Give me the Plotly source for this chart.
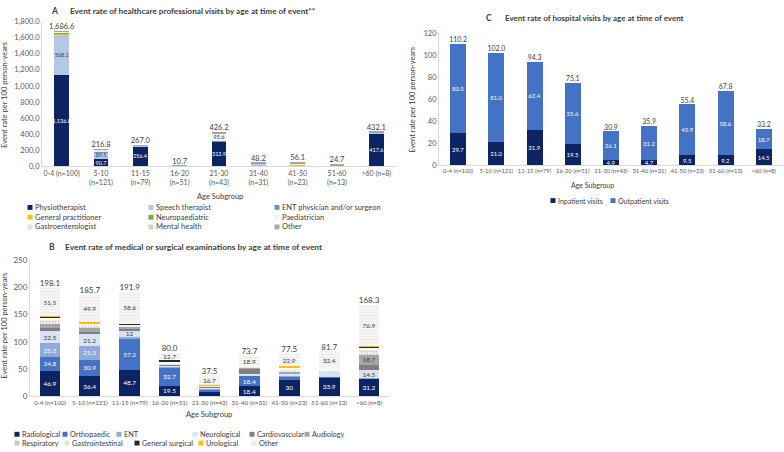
import plotly.graph_objects as go

W, H = 784, 452
FONT = "Lato"
TXT = "#404040"
TICK = "#595959"
AXL = "#D9D9D9"

# ---------------- data ----------------
ages = ["0-4 (n=100)", "5-10 (n=121)", "11-15 (n=79)", "16-20 (n=51)", "21-30 (n=43)",
        "31-40 (n=31)", "41-50 (n=23)", "51-60 (n=13)", ">60 (n=8)"]
ages_wrapped = ["0-4 (n=100)", "5-10<br>(n=121)", "11-15<br>(n=79)", "16-20<br>(n=51)", "21-30<br>(n=43)",
                "31-40<br>(n=31)", "41-50<br>(n=23)", "51-60<br>(n=13)", ">60 (n=8)"]

# Panel A: healthcare professional visits
A_names = ["Physiotherapist", "Speech therapist", "ENT physician and/or surgeon",
           "General practitioner", "Neuropaediatric", "Paediatrician",
           "Gastroenterologist", "Mental health", "Other"]
A_physio = [1136.8, 90.7, 256.4, 0, 312.9, 20, 5, 0, 417.6]
A_speech = [508.1, 89.5, 2, 2, 5, 15, 10, 10, 5]
A_ent = [2, 8, 1, 0, 3, 5, 0, 0, 0]
A_gp = [8, 3, 4, 0, 0, 0, 8, 0, 3]
A_neuro = [10, 2, 1, 0, 0, 0, 3, 0, 0]
A_paed = [5, 10, 1, 5, 95.6, 0, 20, 10, 0]
A_gastro = [3, 5, 0, 0, 0, 0, 0, 0, 0]
A_mental = [3, 3, 0, 0, 0, 0, 0, 0, 0]
A_other = [10.7, 5.6, 1.6, 3.7, 9.7, 8.2, 10.1, 4.7, 6.5]
A_totals = [1686.6, 216.8, 267.0, 10.7, 426.2, 48.2, 56.1, 24.7, 432.1]
A_physio_lbl = ["1,136.8", "90.7", "256.4", "", "312.9", "", "", "", "417.6"]
A_speech_lbl = ["508.1", "89.5", "", "", "", "", "", "", ""]
A_paed_lbl = ["", "", "", "", "95.6", "", "", "", ""]

# Panel C: hospital visits
C_names = ["Inpatient visits", "Outpatient visits"]
C_inpatient = [29.7, 21.0, 31.9, 19.5, 4.9, 4.7, 9.5, 9.2, 14.5]
C_outpatient = [80.5, 81.0, 62.4, 55.6, 26.1, 31.2, 45.9, 58.6, 18.7]
C_totals = [110.2, 102.0, 94.3, 75.1, 30.9, 35.9, 55.4, 67.8, 33.2]

# Panel B: medical or surgical examinations
B_names = ["Radiological", "Orthopaedic", "ENT", "Neurological", "Cardiovascular", "Audiology",
           "Respiratory", "Gastrointestinal", "General surgical", "Urological", "Other"]
B_radio = [46.9, 36.4, 48.7, 19.5, 7.5, 18.4, 30, 33.9, 31.2]
B_ortho = [24.8, 30.9, 57.2, 32.7, 4.5, 18.4, 5, 1, 1]
B_ent = [25.3, 25.3, 3, 1, 1.5, 1, 3, 1, 1]
B_neuro = [22.5, 21.2, 12, 3, 2, 3, 3, 8, 14.5]
B_cardio = [6, 5, 3, 1, 1, 9, 0, 0, 10]
B_audio = [7, 6, 3, 1, 1, 3, 3, 0, 18.7]
B_resp = [8, 6, 3, 2, 1, 1, 5, 2, 8]
B_gastro = [4, 2, 1, 2.8, 1, 1, 3.6, 3.4, 4]
B_gensurg = [1, 1, 1.4, 4.3, 0, 0, 0, 0, 2]
B_uro = [1.1, 2, 1, 0, 1.3, 0, 2, 0, 1]
B_other = [51.5, 49.9, 58.6, 12.7, 16.7, 18.9, 22.9, 32.4, 76.9]
B_totals = [198.1, 185.7, 191.9, 80.0, 37.5, 73.7, 77.5, 81.7, 168.3]
B_radio_lbl = ["46.9", "36.4", "48.7", "19.5", "", "18.4", "30", "33.9", "31.2"]
B_ortho_lbl = ["24.8", "30.9", "57.2", "32.7", "", "18.4", "", "", ""]
B_ent_lbl = ["25.3", "25.3", "", "", "", "", "", "", ""]
B_neuro_lbl = ["22.5", "21.2", "12", "", "", "", "", "", "14.5"]
B_audio_lbl = ["", "", "", "", "", "", "", "", "18.7"]
B_other_lbl = ["51.5", "49.9", "58.6", "12.7", "16.7", "18.9", "22.9", "32.4", "76.9"]

# ---------------- styles ----------------
NAVY = "#0C2461"
BLUE = "#4472C4"
A_style = {
    "Physiotherapist": dict(color=NAVY, tc="white"),
    "Speech therapist": dict(color="#B4C7E7", tc=TXT),
    "ENT physician and/or surgeon": dict(color="#5B9BD5", tc="white"),
    "General practitioner": dict(color="#FFC000", tc=TXT),
    "Neuropaediatric": dict(color="#70AD47", tc=TXT),
    "Paediatrician": dict(color="#F2F2F2", tc=TXT),
    "Gastroenterologist": dict(color="#DAE3F3", tc=TXT),
    "Mental health": dict(color="#FFFFFF", tc=TXT, pattern=dict(shape="x", fgcolor="#A5A5A5", bgcolor="#FFFFFF", size=3, solidity=0.3), leg="#D0D0D0"),
    "Other": dict(color="#A5A5A5", tc=TXT),
}
C_style = {
    "Inpatient visits": dict(color=NAVY, tc="white"),
    "Outpatient visits": dict(color=BLUE, tc="white"),
}
B_style = {
    "Radiological": dict(color=NAVY, tc="white"),
    "Orthopaedic": dict(color=BLUE, tc="white"),
    "ENT": dict(color="#8FAADC", tc="white"),
    "Neurological": dict(color="#DAE3F3", tc=TXT),
    "Cardiovascular": dict(color="#7F7F7F", tc=TXT),
    "Audiology": dict(color="#A5A5A5", tc=TXT),
    "Respiratory": dict(color="#FFFFFF", tc=TXT, pattern=dict(shape=".", fgcolor="#8C8C8C", bgcolor="#FFFFFF", size=3, solidity=0.45), leg="#C8C8C8"),
    "Gastrointestinal": dict(color="#FFFFFF", tc=TXT, pattern=dict(shape="x", fgcolor="#C8C8C8", bgcolor="#FFFFFF", size=4, solidity=0.25), leg="#E0E0E0"),
    "General surgical": dict(color="#262626", tc="white"),
    "Urological": dict(color="#FFC000", tc=TXT),
    "Other": dict(color="#F2F2F2", tc=TXT, pattern=dict(shape="-", fgcolor="#DCDCDC", bgcolor="#F7F7F7", size=3, solidity=0.35), leg="#EAEAEA"),
}

fig = go.Figure()


def add_bar(name, vals, lbls, style, xa, ya, width, fsize):
    marker = dict(color=style["color"], line=dict(width=0))
    if "pattern" in style:
        marker["pattern"] = style["pattern"]
    fig.add_trace(go.Bar(
        x=ages, y=vals, name=name, xaxis=xa, yaxis=ya, width=width,
        marker=marker, showlegend=False,
        text=lbls if lbls is not None else None,
        textposition="inside", insidetextanchor="middle", textangle=0,
        constraintext="none", cliponaxis=False,
        textfont=dict(family=FONT, size=fsize, color=style["tc"]),
        hoverinfo="name+y",
    ))


def add_totals(vals, xa, ya, fmt, fsize):
    fig.add_trace(go.Scatter(
        x=ages, y=vals, mode="text", text=[fmt.format(v) for v in vals],
        textposition="top center", xaxis=xa, yaxis=ya, showlegend=False,
        cliponaxis=False, textfont=dict(family=FONT, size=fsize, color=TXT),
        hoverinfo="skip",
    ))


# Panel A
A_vals = [A_physio, A_speech, A_ent, A_gp, A_neuro, A_paed, A_gastro, A_mental, A_other]
A_lbls = [A_physio_lbl, A_speech_lbl, None, None, None, A_paed_lbl, None, None, None]
for n, v, l in zip(A_names, A_vals, A_lbls):
    add_bar(n, v, l, A_style[n], "x", "y", 0.38, 5.5)
add_totals(A_totals, "x", "y", "{:,.1f}", 7.5)

# Panel C
C_vals = [C_inpatient, C_outpatient]
for n, v in zip(C_names, C_vals):
    add_bar(n, v, ["{:.1f}".format(x) for x in v], C_style[n], "x2", "y2", 0.42, 6)
add_totals(C_totals, "x2", "y2", "{:.1f}", 7)

# Panel B
B_vals = [B_radio, B_ortho, B_ent, B_neuro, B_cardio, B_audio, B_resp, B_gastro, B_gensurg, B_uro, B_other]
B_lbls = [B_radio_lbl, B_ortho_lbl, B_ent_lbl, B_neuro_lbl, None, B_audio_lbl, None, None, None, None, B_other_lbl]
for n, v, l in zip(B_names, B_vals, B_lbls):
    add_bar(n, v, l, B_style[n], "x3", "y3", 0.52, 6.5)
add_totals(B_totals, "x3", "y3", "{:.1f}", 8)


def px_x(p):
    return p / W


def px_y(p):
    return 1 - p / H


ax_common = dict(showgrid=False, zeroline=False, showline=True, linecolor=AXL, linewidth=1,
                 ticks="", tickfont=dict(family=FONT, size=7.5, color=TICK), fixedrange=True)

annotations = []
shapes = []


def ann(text, x, y, size, bold=False, angle=0, xanchor="center", color=TXT):
    annotations.append(dict(
        text=("<b>%s</b>" % text) if bold else text, x=px_x(x), y=px_y(y),
        xref="paper", yref="paper", showarrow=False, textangle=angle,
        xanchor=xanchor, yanchor="middle",
        font=dict(family=FONT, size=size, color=color)))


def legend_item(name, color, x, y, size=7.5):
    shapes.append(dict(type="rect", xref="paper", yref="paper",
                       x0=px_x(x - 2.5), x1=px_x(x + 2.5), y0=px_y(y + 2.5), y1=px_y(y - 2.5),
                       fillcolor=color, line=dict(width=0)))
    ann(name, x + 3, y, size, xanchor="left")


# Titles
ann("A", 55, 6, 8.5, bold=True)
ann("Event rate of healthcare professional visits by age at time of event**", 68, 6, 8.2, bold=True, xanchor="left")
ann("C", 489, 13, 8.5, bold=True)
ann("Event rate of hospital visits by age at time of event", 503, 13, 8, bold=True, xanchor="left")
ann("B", 52, 247, 8.5, bold=True)
ann("Event rate of medical or surgical examinations by age at time of event", 63, 247, 8.4, bold=True, xanchor="left")

# Axis titles
ann("Event rate per 100 person-years", 5, 92, 7.5, angle=-90)
ann("Event rate per 100 person-years", 413, 97, 7.5, angle=-90)
ann("Event rate per 100 person-years", 5, 328, 7.5, angle=-90)
ann("Age Subgroup", 220, 196, 7.5)
ann("Age Subgroup", 592, 184, 7)
ann("Age Subgroup", 209, 419, 7.5)

# Legends
A_leg_pos = [(30, 207), (151, 207), (277, 207),
             (30, 217), (151, 217), (277, 217),
             (30, 227), (151, 227), (277, 227)]
for n, (x, y) in zip(A_names, A_leg_pos):
    st = A_style[n]
    legend_item(n, st.get("leg", st["color"]), x, y)

C_leg_pos = [(553, 200), (613, 200)]
for n, (x, y) in zip(C_names, C_leg_pos):
    legend_item(n, C_style[n]["color"], x, y, 7)

B_leg_pos = [(17, 439), (65, 439), (119, 439), (195, 439), (252, 439), (307, 439),
             (17, 448), (67, 448), (137, 448), (201, 448), (254, 448)]
for n, (x, y) in zip(B_names, B_leg_pos):
    st = B_style[n]
    legend_item(n, st.get("leg", st["color"]), x, y, 7.3)

fig.update_layout(
    width=W, height=H, margin=dict(l=0, r=0, t=0, b=0),
    paper_bgcolor="white", plot_bgcolor="white",
    barmode="stack", showlegend=False,
    font=dict(family=FONT, color=TXT),
    xaxis=dict(domain=[px_x(42), px_x(396)], anchor="y", tickvals=ages, ticktext=ages_wrapped,
               tickangle=0, **{**ax_common, "tickfont": dict(family=FONT, size=7, color=TICK)}),
    yaxis=dict(domain=[px_y(165), px_y(17)], anchor="x", range=[0, 1800], dtick=200,
               tickformat=",.1f", **ax_common),
    xaxis2=dict(domain=[px_x(439), px_x(783)], anchor="y2", tickangle=0,
                **{**ax_common, "tickfont": dict(family=FONT, size=5.8, color=TICK)}),
    yaxis2=dict(domain=[px_y(164), px_y(29)], anchor="x2", range=[0, 120], dtick=20, **ax_common),
    xaxis3=dict(domain=[px_x(30), px_x(389)], anchor="y3", tickangle=0,
                **{**ax_common, "tickfont": dict(family=FONT, size=6.2, color=TICK)}),
    yaxis3=dict(domain=[px_y(400), px_y(261)], anchor="x3", range=[0, 250], dtick=50,
                **{**ax_common, "tickfont": dict(family=FONT, size=8, color=TICK)}),
    annotations=annotations, shapes=shapes,
)

fig.write_html("out.html", config={"displayModeBar": False},
               post_script="document.body.style.margin='0';document.body.style.padding='0';")
